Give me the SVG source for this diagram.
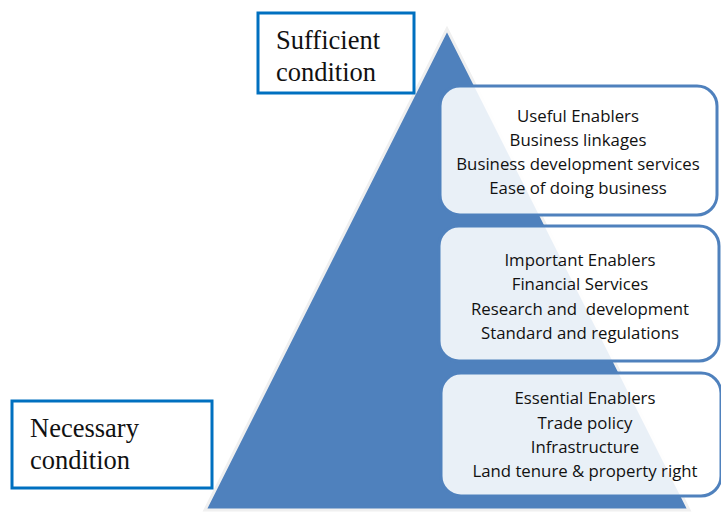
<svg xmlns="http://www.w3.org/2000/svg" width="721" height="513" viewBox="0 0 721 513">
<style>
.box{fill:#ffffff;fill-opacity:0.88;stroke:#4f81bd;stroke-width:3}
.t{font-family:"Open Sans","Liberation Sans",sans-serif;font-size:16.8px;fill:#111;text-anchor:middle}
.lbl{fill:#fff;stroke:#0070c0;stroke-width:3}
.s{font-family:"Liberation Serif","Times New Roman",serif;font-size:26.5px;fill:#111}
</style>
<rect width="721" height="513" fill="#fff"/>
<g id="pyramid">
<polygon points="447,29 205,510 689,510" fill="#4f81bd" stroke="#f0f0f0" stroke-width="3"/>
</g>
<g id="useful">
<rect class="box" x="440" y="86" width="277" height="129" rx="20"/>
<text class="t" x="578" y="122">Useful Enablers</text>
<text class="t" x="578" y="146">Business linkages</text>
<text class="t" x="578" y="170">Business development services</text>
<text class="t" x="578" y="194">Ease of doing business</text>
</g>
<g id="important">
<rect class="box" x="439" y="226" width="280" height="135" rx="20"/>
<text class="t" x="580" y="266">Important Enablers</text>
<text class="t" x="580" y="290">Financial Services</text>
<text class="t" x="580" y="315" xml:space="preserve">Research and  development</text>
<text class="t" x="580" y="339">Standard and regulations</text>
</g>
<g id="essential">
<rect class="box" x="441" y="373" width="280" height="123" rx="20"/>
<text class="t" x="585" y="404">Essential Enablers</text>
<text class="t" x="585" y="429">Trade policy</text>
<text class="t" x="585" y="453">Infrastructure</text>
<text class="t" x="585" y="477">Land tenure &amp; property right</text>
</g>
<g id="sufficient">
<rect class="lbl" x="258" y="13" width="156" height="80"/>
<text class="s" x="276" y="49">Sufficient</text>
<text class="s" x="276" y="81">condition</text>
</g>
<g id="necessary">
<rect class="lbl" x="12" y="401" width="200" height="87"/>
<text class="s" x="30" y="437">Necessary</text>
<text class="s" x="30" y="469">condition</text>
</g>
<g id="connectors"></g>
</svg>
